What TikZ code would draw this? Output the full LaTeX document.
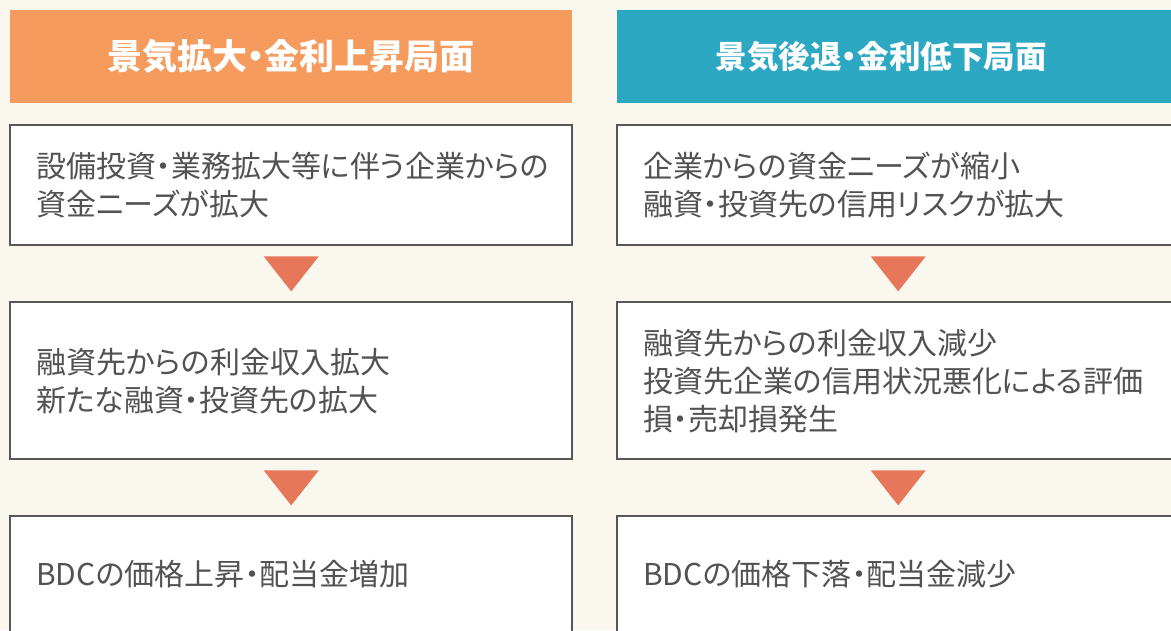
\documentclass[tikz,border=0pt]{standalone}
\usepackage{fontspec}
\setmainfont{Noto Sans CJK JP}[RawFeature=+palt]
\usetikzlibrary{positioning,calc}
\definecolor{bgcream}{HTML}{FAF7EF}
\definecolor{hdrorange}{HTML}{F69B5E}
\definecolor{hdrteal}{HTML}{2DA8C3}
\definecolor{arrowfill}{HTML}{E7775A}
\definecolor{boxline}{HTML}{575757}
\definecolor{bodytext}{HTML}{525252}
\begin{document}
\begin{tikzpicture}[
		x=1pt,y=1pt,
		hdr/.style={minimum width=562pt,minimum height=93pt,inner sep=0pt,anchor=north west},
		hdrtext/.style={text=white,inner sep=0pt,font=\bfseries\fontsize{#1}{#1}\selectfont},
		box/.style={draw=boxline,line width=2pt,fill=white,minimum width=562pt,
				text width=510pt,inner xsep=26pt,align=left,text=bodytext,
				font=\fontsize{30}{38}\selectfont},
		tri/.style={fill=arrowfill}
	]
	\useasboundingbox (0,0) rectangle (1171,-630);
	\clip (0,0) rectangle (1171,-630);
	\fill[bgcream] (0,0) rectangle (1171,-630);

	% headers
	\node[hdr,fill=hdrorange] (hdrL) at (10,-10) {};
	\node[hdrtext=35] (hdrLtxt) at (hdrL.center) {景気拡大・金利上昇局面};
	\node[hdr,fill=hdrteal] (hdrR) at (617,-10) {};
	\node[hdrtext=31.5] (hdrRtxt) at ($(hdrR.center)+(-17,0)$) {景気後退・金利低下局面};

	% left column
	\node[box,minimum height=120pt,below=21pt of hdrL] (bL1) {設備投資・業務拡大等に伴う企業からの\\資金ニーズが拡大};
	\node[box,minimum height=157pt,below=55pt of bL1] (bL2) {融資先からの利金収入拡大\\新たな融資・投資先の拡大};
	\node[box,minimum height=116pt,below=55pt of bL2] (bL3) {BDCの価格上昇・配当金増加};

	% right column
	\node[box,minimum height=120pt,below=21pt of hdrR] (bR1) {企業からの資金ニーズが縮小\\融資・投資先の信用リスクが拡大};
	\node[box,minimum height=157pt,below=55pt of bR1] (bR2) {融資先からの利金収入減少\\投資先企業の信用状況悪化による評価\\損・売却損発生};
	\node[box,minimum height=116pt,below=55pt of bR2] (bR3) {BDCの価格下落・配当金減少};

	% arrows
	\foreach \a/\b in {bL1/bL2,bL2/bL3,bR1/bR2,bR2/bR3}
	\fill[tri] ($(\a.south)+(-27.5,-10)$) -- ($(\a.south)+(27.5,-10)$) -- ($(\b.north)+(0,10)$) -- cycle;
\end{tikzpicture}
\end{document}
